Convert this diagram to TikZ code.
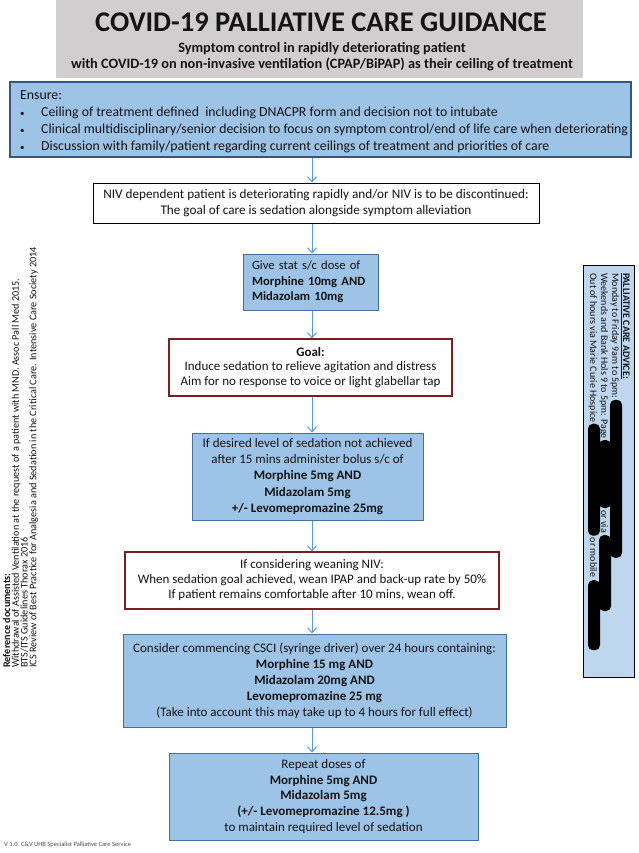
\documentclass[tikz,border=0pt]{standalone}
\usepackage{fontspec}
\setmainfont{Carlito}
\usetikzlibrary{arrows.meta,calc}
\definecolor{titlegray}{RGB}{208,206,206}
\definecolor{boxblue}{RGB}{157,195,230}
\definecolor{boxedge}{RGB}{65,113,156}
\definecolor{ensureedge}{RGB}{52,86,128}
\definecolor{redge}{RGB}{122,32,32}
\definecolor{arrowblue}{RGB}{91,155,213}
\definecolor{sideblue}{RGB}{190,215,238}
\definecolor{txt}{RGB}{20,20,20}
\newcommand{\fsz}[2]{\fontsize{#1}{#2}\selectfont}
\newcommand{\bul}{\makebox[21pt][l]{\raisebox{0.5pt}{\fsz{9}{9}•}}}
\tikzset{
  bluebox/.style={draw=boxedge, line width=1pt, fill=boxblue, inner sep=0pt, align=center, text=txt},
  redbox/.style={draw=redge, line width=1.2pt, fill=white, inner sep=0pt, align=center, text=txt},
  blackbox/.style={draw=black, line width=1pt, fill=white, inner sep=0pt, align=center, text=txt},
  arr/.style={draw=arrowblue, line width=1pt, -{Straight Barb[length=5pt,width=9pt]}},
  blob/.style={fill=black, rounded corners=5pt},
  sidetxt/.style={rotate=-90, anchor=base west, inner sep=0pt, font=\fsz{10}{10}, text=txt},
  reftxt/.style={rotate=90, anchor=base west, inner sep=0pt, font=\fsz{10.2}{10}, text=txt}
}
\begin{document}
\begin{tikzpicture}[x=1pt,y=-1pt]
\useasboundingbox (0,0) rectangle (639,853);
\fill[white] (0,0) rectangle (639,853);

% title
\node[fill=titlegray, minimum width=527, minimum height=78, inner sep=0] (title) at (319.5,39) {};
\node[inner sep=0, text=txt, font=\fsz{28.5}{30}\bfseries] (titletext) at (321,22) {COVID-19 PALLIATIVE CARE GUIDANCE};
\node[inner sep=0, text=txt, align=center, font=\fsz{14.3}{16}\bfseries] (subtitle) at (322,57)
  {Symptom control in rapidly deteriorating patient\\with COVID-19 on non-invasive ventilation (CPAP/BiPAP) as their ceiling of treatment};

% ensure
\node[fill=boxblue, draw=ensureedge, line width=2.4pt, minimum width=621, minimum height=75, inner sep=0] (ensure) at (320.5,119.5) {};
\node[anchor=north west, inner sep=0, align=left, text=txt, font=\fsz{13.8}{17}] (ensuretext) at (20,90.5)
  {Ensure:\\
   \bul Ceiling of treatment defined\ \ including DNACPR form and decision not to intubate\\
   \bul Clinical multidisciplinary/senior decision to focus on symptom control/end of life care when deteriorating\\
   \bul Discussion with family/patient regarding current ceilings of treatment and priorities of care};

% flow boxes
\node[blackbox, minimum width=446, minimum height=40, font=\fsz{13.2}{15.5}] (niv) at (316,203)
  {NIV dependent patient is deteriorating rapidly and/or NIV is to be discontinued:\\The goal of care is sedation alongside symptom alleviation};
\node[bluebox, minimum width=135, minimum height=56, text width=117, align=left, font=\fsz{12.6}{15.5}] (stat) at (310.5,282)
  {Give stat s/c dose of\\\textbf{Morphine 10mg AND}\\\textbf{Midazolam 10mg}};
\node[redbox, minimum width=283, minimum height=57, font=\fsz{13}{14.8}] (goal) at (310.5,367.5)
  {\textbf{Goal:}\\Induce sedation to relieve agitation and distress\\Aim for no response to voice or light glabellar tap};
\node[bluebox, minimum width=231, minimum height=87, font=\fsz{13}{16.3}] (bolus) at (307.5,476.5)
  {If desired level of sedation not achieved\\after 15 mins administer bolus s/c of\\\textbf{Morphine 5mg AND}\\\textbf{Midazolam 5mg}\\\textbf{+/- Levomepromazine 25mg}};
\node[redbox, minimum width=374, minimum height=57, font=\fsz{13}{15}] (wean) at (312,580.5)
  {If considering weaning NIV:\\When sedation goal achieved, wean IPAP and back-up rate by 50\%\\If patient remains comfortable after 10 mins, wean off.};
\node[bluebox, minimum width=383, minimum height=93, font=\fsz{13}{16}] (csci) at (314.5,680.5)
  {Consider commencing CSCI (syringe driver) over 24 hours containing:\\\textbf{Morphine 15 mg AND}\\\textbf{Midazolam 20mg AND}\\\textbf{Levomepromazine 25 mg}\\(Take into account this may take up to 4 hours for full effect)};
\node[bluebox, minimum width=309, minimum height=87, font=\fsz{13}{15.8}] (repeat) at (323.5,796.5)
  {Repeat doses of\\\textbf{Morphine 5mg AND}\\\textbf{Midazolam 5mg}\\\textbf{(+/- Levomepromazine 12.5mg )}\\to maintain required level of sedation};

% arrows
\coordinate (axis) at (312,0);
\draw[arr] (axis |- ensure.south) -- (axis |- niv.north);
\draw[arr] (axis |- niv.south) -- (axis |- stat.north);
\draw[arr] (axis |- stat.south) -- (axis |- goal.north);
\draw[arr] (axis |- goal.south) -- (axis |- bolus.north);
\draw[arr] (axis |- bolus.south) -- (axis |- wean.north);
\draw[arr] (axis |- wean.south) -- (axis |- csci.north);
\draw[arr] (axis |- csci.south) -- (axis |- repeat.north);

% reference documents (left, rotated)
\node[reftxt, font=\fsz{10.2}{10}\bfseries] (ref0) at (10,668) {Reference documents:};
\node[reftxt] (ref1) at (18.8,668) {Withdrawal of Assisted Ventilation at the request of a patient with MND. Assoc Pall Med 2015.};
\node[reftxt] (ref2) at (27.6,668) {BTS/ITS Guidelines Thorax 2016};
\node[reftxt] (ref3) at (36.4,668) {ICS Review of Best Practice for Analgesia and Sedation in the Critical Care. Intensive Care Society 2014};

% palliative care advice (right)
\node[fill=sideblue, draw=black, line width=1pt, minimum width=51, minimum height=412, inner sep=0] (side) at (608.5,471) {};
\node[sidetxt, font=\fsz{10}{10}\bfseries] (adv0) at (623,273) {\underline{PALLIATIVE CARE ADVICE:}};
\node[sidetxt] (adv1) at (612,273) {Monday to Friday 9am to 5pm:};
\node[sidetxt] (adv2) at (601,273) {Weekends and Bank Hols 9 to 5pm: Page};
\node[sidetxt] (adv3) at (590,273) {Out of hours via Marie Curie Hospice};
\fill[blob] ([xshift=-2pt,yshift=-1pt]adv1.base east) rectangle ++(12,158);
\fill[blob] ([xshift=-2pt,yshift=-1pt]adv2.base east) rectangle ++(12,68) coordinate (b2);
\node[sidetxt] (adv2b) at ([yshift=-2pt]b2 -| adv2.base east) {or via};
\fill[blob] ([xshift=-2pt,yshift=-2pt]adv2b.base east) rectangle ++(12,76);
\fill[blob] ([xshift=-2pt,yshift=-1pt]adv3.base east) rectangle ++(12,112) coordinate (b3);
\node[sidetxt] (adv3b) at ([yshift=-2pt]b3 -| adv3.base east) {or mobile};
\fill[blob] ([xshift=-2pt,yshift=-3pt]adv3b.base east) rectangle ++(12,70);

% footer
\node[anchor=west, inner sep=0, text=black!70, font=\fsz{6.5}{7}] (footer) at (4,845) {V 1.0. C\&V UHB Specialist Palliative Care Service};
\end{tikzpicture}
\end{document}
